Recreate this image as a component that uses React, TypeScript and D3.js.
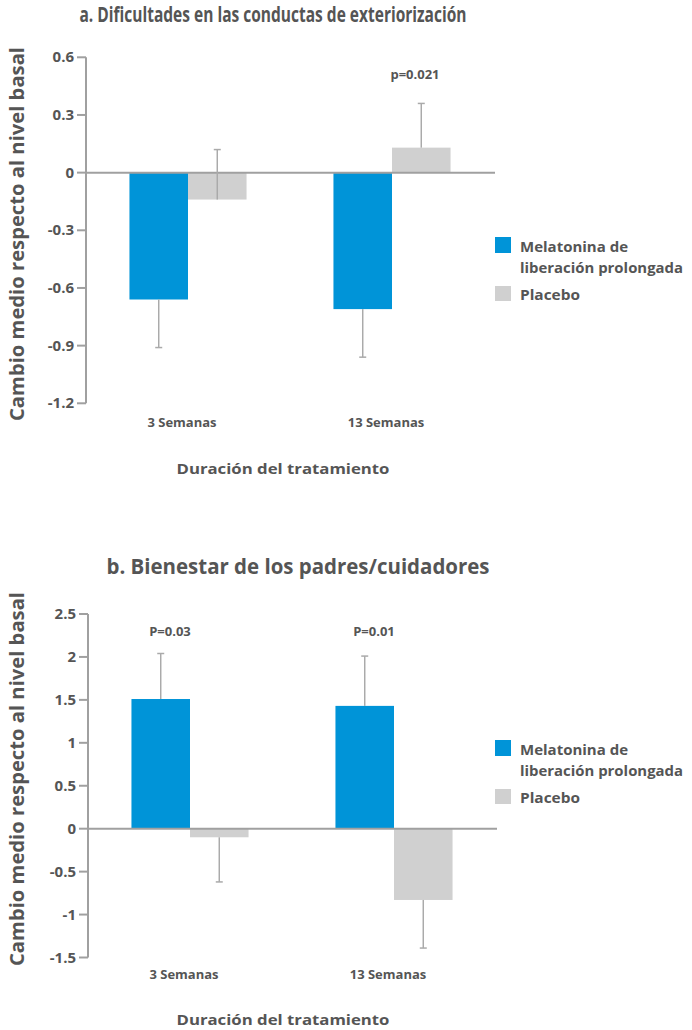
import React from "react";
import * as d3 from "d3";

const categories = ["3 Semanas", "13 Semanas"];
const legendLines = [["Melatonina de", "liberación prolongada"], ["Placebo"]];

// chart a
const aMelatonina = [-0.66, -0.71];
const aMelatoninaErr = [-0.91, -0.96];
const aPlacebo = [-0.14, 0.13];
const aPlaceboErr = [0.12, 0.36];
const aTicks = [0.6, 0.3, 0, -0.3, -0.6, -0.9, -1.2];
const aPValues = ["", "p=0.021"];

// chart b
const bMelatonina = [1.51, 1.43];
const bMelatoninaErr = [2.04, 2.01];
const bPlacebo = [-0.1, -0.83];
const bPlaceboErr = [-0.62, -1.39];
const bTicks = [2.5, 2, 1.5, 1, 0.5, 0, -0.5, -1, -1.5];
const bPValues = ["P=0.03", "P=0.01"];

const BLUE = "#0094d8";
const GREY = "#d0d0d0";
const AXIS = "#a0a0a0";
const TEXT = "#555";
const FONT = "'Open Sans', 'DejaVu Sans', sans-serif";

type PanelProps = {
  title: string;
  titleX: number;
  titleY: number;
  titleLen: number;
  top: number; // pixel y of highest tick
  bottom: number; // pixel y of lowest tick
  x0: number;
  x1: number;
  ticks: number[];
  mel: number[];
  melErr: number[];
  pla: number[];
  plaErr: number[];
  pValues: string[];
  pDx: number;
  pY: number;
  catY: number;
  axisTitleY: number;
  yLabelCenter: number;
  legendY: number;
};

function Panel(p: PanelProps) {
  const y = d3
    .scaleLinear()
    .domain([d3.min(p.ticks)!, d3.max(p.ticks)!])
    .range([p.bottom, p.top]);
  const x = d3.scaleBand().domain(categories).range([p.x0, p.x1]);
  const half = x.bandwidth() * 0.287; // width of one bar
  const inner = d3
    .scaleBand()
    .domain(["mel", "pla"])
    .range([x.bandwidth() / 2 - half, x.bandwidth() / 2 + half]);
  const bw = inner.bandwidth();
  const axisX = p.x0;

  const series = [
    { key: "mel", vals: p.mel, err: p.melErr, color: BLUE },
    { key: "pla", vals: p.pla, err: p.plaErr, color: GREY },
  ];

  return (
    <g>
      <text x={p.titleX} y={p.titleY} textAnchor="middle" fontSize={21} fontWeight={700}
        fill={TEXT} textLength={p.titleLen} lengthAdjust="spacingAndGlyphs">{p.title}</text>

      {/* bars */}
      {series.map((s) =>
        categories.map((c, i) => {
          const bx = x(c)! + inner(s.key)!;
          const v = s.vals[i];
          return (
            <rect key={s.key + c} x={bx} width={bw} y={Math.min(y(v), y(0))}
              height={Math.abs(y(v) - y(0))} fill={s.color} />
          );
        })
      )}

      {/* zero line and axis */}
      <line x1={axisX} x2={p.x1 + 1} y1={y(0)} y2={y(0)} stroke={AXIS} strokeWidth={2} />
      <line x1={axisX} x2={axisX} y1={p.top} y2={p.bottom} stroke={AXIS} strokeWidth={2} />
      {p.ticks.map((t) => (
        <g key={t}>
          <line x1={axisX - 9} x2={axisX} y1={y(t)} y2={y(t)} stroke={AXIS} strokeWidth={2} />
          <text x={axisX - 12} y={y(t) + 5} textAnchor="end" fontSize={15} fontWeight={700} fill={TEXT}>
            {t}
          </text>
        </g>
      ))}

      {/* error bars */}
      {series.map((s) =>
        categories.map((c, i) => {
          const cx = x(c)! + inner(s.key)! + bw / 2;
          return (
            <g key={"e" + s.key + c} stroke="#aaa" strokeWidth={1.5}>
              <line x1={cx} x2={cx} y1={y(s.vals[i])} y2={y(s.err[i])} />
              <line x1={cx - 3.5} x2={cx + 3.5} y1={y(s.err[i])} y2={y(s.err[i])} />
            </g>
          );
        })
      )}

      {/* p values */}
      {categories.map((c, i) => (
        <text key={"p" + c} x={x(c)! + x.bandwidth() / 2 + p.pDx} y={p.pY} textAnchor="middle"
          fontSize={13} fontWeight={700} fill={TEXT}>{p.pValues[i]}</text>
      ))}

      {/* category labels */}
      {categories.map((c) => (
        <text key={"c" + c} x={x(c)! + x.bandwidth() / 2 - 6} y={p.catY} textAnchor="middle"
          fontSize={13} fontWeight={700} fill={TEXT}>{c}</text>
      ))}
      <text x={283} y={p.axisTitleY} textAnchor="middle" fontSize={15} fontWeight={700} fill={TEXT}
        textLength={213} lengthAdjust="spacingAndGlyphs">Duración del tratamiento</text>

      <text transform={`translate(24, ${p.yLabelCenter}) rotate(-90)`} textAnchor="middle" fontSize={19}
        fontWeight={700} fill={TEXT} textLength={374} lengthAdjust="spacingAndGlyphs">
        Cambio medio respecto al nivel basal
      </text>

      {/* legend */}
      <g transform={`translate(495, ${p.legendY})`}>
        <rect x={0} y={0} width={16} height={16} fill={BLUE} />
        <text x={25} y={14.5} fontSize={15} fontWeight={700} fill={TEXT} textLength={108}
          lengthAdjust="spacingAndGlyphs">{legendLines[0][0]}</text>
        <text x={25} y={35.5} fontSize={15} fontWeight={700} fill={TEXT} textLength={163}
          lengthAdjust="spacingAndGlyphs">{legendLines[0][1]}</text>
        <rect x={0} y={49} width={16} height={15} fill={GREY} />
        <text x={25} y={63} fontSize={15} fontWeight={700} fill={TEXT} textLength={60}
          lengthAdjust="spacingAndGlyphs">{legendLines[1][0]}</text>
      </g>
    </g>
  );
}

export default function App() {
  return (
    <svg width={692} height={1030} style={{ position: "absolute", left: 0, top: 0, background: "#fff" }}
      fontFamily={FONT}>
      <Panel title="a. Dificultades en las conductas de exteriorización" titleX={273} titleY={22}
        titleLen={387} top={57.3} bottom={403.3} x0={86} x1={494} ticks={aTicks}
        mel={aMelatonina} melErr={aMelatoninaErr} pla={aPlacebo} plaErr={aPlaceboErr}
        pValues={aPValues} pDx={23} pY={79} catY={427} axisTitleY={474} yLabelCenter={234}
        legendY={237} />
      <Panel title="b. Bienestar de los padres/cuidadores" titleX={298} titleY={574}
        titleLen={383} top={614} bottom={957.5} x0={88} x1={496} ticks={bTicks}
        mel={bMelatonina} melErr={bMelatoninaErr} pla={bPlacebo} plaErr={bPlaceboErr}
        pValues={bPValues} pDx={-20} pY={636} catY={979} axisTitleY={1025} yLabelCenter={779}
        legendY={740} />
    </svg>
  );
}
